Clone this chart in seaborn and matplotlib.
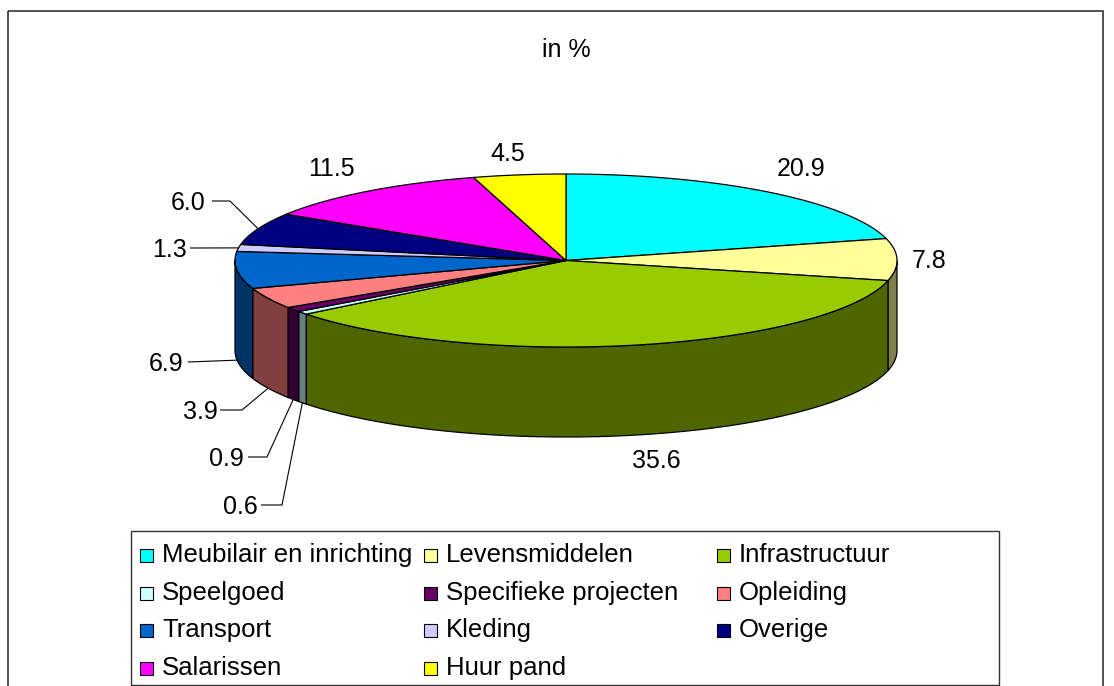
import numpy as np
import matplotlib
matplotlib.use("Agg")
import matplotlib.pyplot as plt
import seaborn as sns
from matplotlib.patches import Polygon, Rectangle
from matplotlib.colors import to_rgb

# ---------------- data ----------------
categories = ["Meubilair en inrichting", "Levensmiddelen", "Infrastructuur",
              "Speelgoed", "Specifieke projecten", "Opleiding",
              "Transport", "Kleding", "Overige", "Salarissen", "Huur pand"]
values = [20.9, 7.8, 35.6, 0.6, 0.9, 3.9, 6.9, 1.3, 6.0, 11.5, 4.5]
colors = ["#00FFFF", "#FFFF99", "#99CC00", "#CCFFFF", "#660066", "#FF8080",
          "#0066CC", "#CCCCFF", "#000080", "#FF00FF", "#FFFF00"]
value_labels = [f"{v:.1f}" for v in values]
title = "in %"

# ---------------- layout (pixels) ----------------
W, H = 1114, 686
CX, CY = 566, 260.5
RX, RY = 331, 86.5
DEPTH = 90
FS = 18
FS_LEG = 18.5
# label centres and leader layout (start_x, elbow_x) or None
LABEL_POS = [(801, 167), (929, 259), (656, 459), (240, 505), (226, 457),
             (200, 410), (166, 362), (169, 248), (188, 201), (331, 167), (508, 152)]
LEADER = [None, None, None, (261, 282), (248, 267), (220, 242), (188, 188),
          (190, 190), (212, 230), None, None]
LEG_BOX = (131, 531, 999, 685)
LEG_COL_X = [140, 424, 717]
LEG_ROW_BASE = [562, 600, 637, 675]
MARK = 13

sns.set_theme(style="white")
plt.rcParams["font.family"] = ["Liberation Sans", "DejaVu Sans"]

fig = plt.figure(figsize=(W / 100, H / 100), dpi=100)
ax = fig.add_axes([0, 0, 1, 1])
ax.set_xlim(0, W)
ax.set_ylim(H, 0)
ax.axis("off")


def ell(t_deg, dy=0.0):
    t = np.radians(t_deg)
    return CX + RX * np.cos(t), CY - RY * np.sin(t) + dy


def darker(c, f=0.5):
    r, g, b = to_rgb(c)
    return (r * f, g * f, b * f)


vals = np.array(values, dtype=float)
scale = 360.0 / vals.sum()
cum = np.concatenate([[0.0], np.cumsum(vals)])
t_start = 90 - cum[:-1] * scale
t_end = 90 - cum[1:] * scale

# side walls (front half only)
for i in range(len(vals)):
    hi = min(t_start[i], 0.0)
    lo = max(t_end[i], -180.0)
    if hi > lo:
        n = max(3, int((hi - lo) * 2))
        ts = np.linspace(hi, lo, n)
        xt, yt = ell(ts)
        xb, yb = ell(ts[::-1], DEPTH)
        pts = np.column_stack([np.concatenate([xt, xb]), np.concatenate([yt, yb])])
        ax.add_patch(Polygon(pts, closed=True, facecolor=darker(colors[i]),
                             edgecolor="black", lw=0.9, zorder=2))

# top faces
for i in range(len(vals)):
    n = max(3, int((t_start[i] - t_end[i]) * 2))
    ts = np.linspace(t_start[i], t_end[i], n)
    xt, yt = ell(ts)
    pts = np.column_stack([np.concatenate([[CX], xt]), np.concatenate([[CY], yt])])
    ax.add_patch(Polygon(pts, closed=True, facecolor=colors[i],
                         edgecolor="black", lw=0.9, zorder=3))

# labels with leader lines
half_cap = FS * 100 / 72 * 0.716 / 2
for i, lab in enumerate(value_labels):
    lx, ly = LABEL_POS[i]
    ax.text(lx, ly + half_cap, lab, ha="center", va="baseline", fontsize=FS,
            color="black", zorder=5)
    if LEADER[i] is not None:
        mid = (t_start[i] + t_end[i]) / 2
        if np.sin(np.radians(mid)) < 0:
            axp, ayp = ell(mid, DEPTH)
        else:
            axp, ayp = ell(mid)
        sx, ex = LEADER[i]
        ax.plot([sx, ex, axp], [ly, ly, ayp], color="black", lw=0.8, zorder=4,
                solid_capstyle="butt")

# title
ax.text(CX, 48 + half_cap, title, ha="center", va="baseline", fontsize=FS, color="black")

# outer chart frame
ax.add_patch(Rectangle((8, 11), 1103 - 8, H + 20, fill=False, edgecolor="#333333",
                       lw=1.2, zorder=1))

# legend
x0, y0, x1, y1 = LEG_BOX
ax.add_patch(Rectangle((x0, y0), x1 - x0, y1 - y0, fill=False, edgecolor="#333333",
                       lw=1.0, zorder=6))
for k, (cat, col) in enumerate(zip(categories, colors)):
    r, c = divmod(k, 3)
    mx = LEG_COL_X[c]
    by = LEG_ROW_BASE[r]
    ax.add_patch(Rectangle((mx, by - MARK), MARK, MARK, facecolor=col,
                           edgecolor="black", lw=0.8, zorder=6))
    ax.text(mx + 22, by, cat, ha="left", va="baseline", fontsize=FS_LEG, color="black",
            zorder=6)

fig.savefig("out.png", dpi=100)
